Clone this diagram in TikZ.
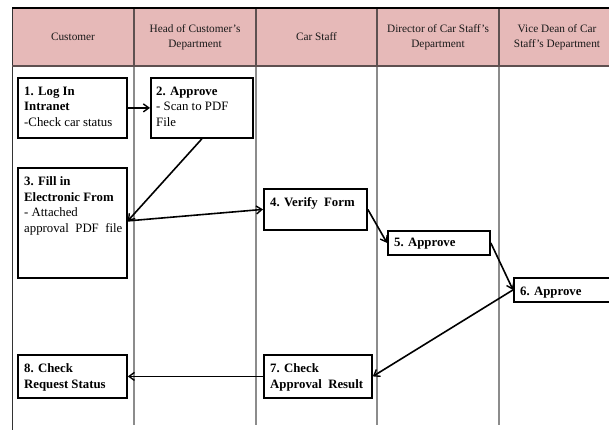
\documentclass[tikz,border=0pt]{standalone}
\usepackage{fontspec}
\setmainfont{Liberation Serif}
\usetikzlibrary{arrows.meta,calc}
\definecolor{hdrpink}{HTML}{E6B9B8}
\definecolor{lanegray}{HTML}{8C8C8C}
\definecolor{hdrline}{HTML}{5E5050}
\begin{document}
\begin{tikzpicture}[x=1pt,y=-1pt,
 lane/.style={draw=lanegray, line width=1.2pt},
 hdrsep/.style={draw=hdrline, line width=1.3pt},
 hdr/.style={font=\fontsize{11.3}{15}\selectfont, align=center, text=black!90, inner sep=0pt},
 box/.style={draw=black, line width=1.8pt, fill=white, anchor=north west, inner sep=0pt},
 txt/.style={anchor=north west, align=left, inner sep=0pt, font=\fontsize{12.8}{15.5}\selectfont},
 flow/.style={-{Straight Barb[length=5.5pt,width=8pt,line width=1.4pt]}, line width=1.6pt}]
\useasboundingbox (0,0) rectangle (609,430);
\fill[white] (0,0) rectangle (609,430);
% header
\fill[hdrpink] (12,8) rectangle (609,66);
% lanes
\draw[draw=black!80, line width=0.9pt] (12,8) -- (12,430);
\foreach \x in {134,256,377,499} {\draw[lane] (\x,66) -- (\x,425);}
\foreach \x in {134,256,377,499} {\draw[hdrsep] (\x,8) -- (\x,66);}
\draw[black, line width=1.2pt] (12,8) -- (609,8);
\draw[hdrline, line width=1.5pt] (12,66) -- (609,66);
% header labels
\node[hdr] (h1) at (73,37) {Customer};
\node[hdr] (h2) at (195,37) {Head of Customer's\\Department};
\node[hdr] (h3) at (316.5,37) {Car Staff};
\node[hdr] (h4) at (438,37) {Director of Car Staff's\\Department};
\node[hdr] (h5) at (557,37) {Vice Dean of Car\\Staff's Department};
% boxes
\node[box, minimum width=109pt, minimum height=60pt] (b1) at (17,77) {};
\node[box, minimum width=102pt, minimum height=60pt] (b2) at (150,77) {};
\node[box, minimum width=109pt, minimum height=110pt] (b3) at (17,167) {};
\node[box, minimum width=103pt, minimum height=41pt] (b4) at (263,188) {};
\node[box, minimum width=102pt, minimum height=24pt] (b5) at (387,230) {};
\node[box, minimum width=110pt, minimum height=24pt] (b6) at (513,277) {};
\node[box, minimum width=108pt, minimum height=43pt] (b7) at (263,354) {};
\node[box, minimum width=109pt, minimum height=43pt] (b8) at (17,354) {};
% texts
\node[txt] (t1) at ($(b1.north west)+(7,9.5)$) {\textbf{1. Log In}\\\textbf{Intranet}\\-Check car status};
\node[txt] (t2) at ($(b2.north west)+(6,9.5)$) {\textbf{2. Approve}\\- Scan to PDF\\File};
\node[txt] (t3) at ($(b3.north west)+(7,9.5)$) {\textbf{3. Fill in}\\\textbf{Electronic From}\\- Attached\\approval\ \ PDF\ \ file};
\node[txt] (t4) at ($(b4.north west)+(7,9)$) {\textbf{4. Verify\ \ Form}};
\node[txt] (t5) at ($(b5.north west)+(7,8)$) {\textbf{5. Approve}};
\node[txt] (t6) at ($(b6.north west)+(7,9.5)$) {\textbf{6. Approve}};
\node[txt] (t7) at ($(b7.north west)+(7,9.5)$) {\textbf{7. Check}\\\textbf{Approval\ \ Result}};
\node[txt] (t8) at ($(b8.north west)+(7,9.5)$) {\textbf{8. Check}\\\textbf{Request Status}};
% connectors
\draw[flow] (b1.east) -- (b2.west);
\draw[flow] (b2.south) -- ($(b3.east)+(0,-2)$);
\draw[flow] ($(b3.east)+(0,-2)$) -- (b4.west);
\draw[flow] (b4.east) -- (b5.west);
\draw[flow] (b5.east) -- (b6.west);
\draw[flow] (b6.west) -- (b7.east);
\draw[flow] (b7.west) -- (b8.east);
\end{tikzpicture}
\end{document}
